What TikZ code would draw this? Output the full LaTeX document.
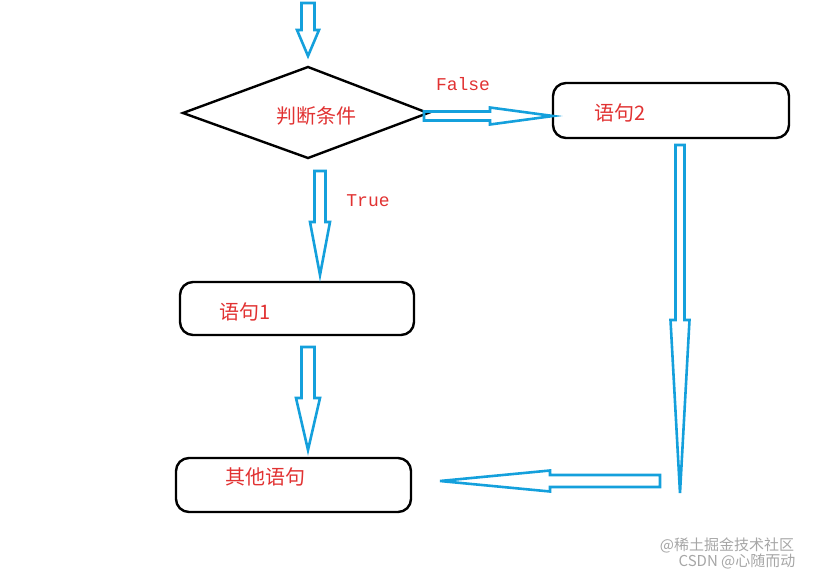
\documentclass[tikz,border=0pt]{standalone}
\usepackage{fontspec}
\setmonofont{Liberation Mono}
\newfontfamily\cjk{Noto Sans CJK SC}
\usetikzlibrary{shapes.geometric,calc}
\definecolor{arrblue}{RGB}{20,160,220}
\definecolor{txtred}{RGB}{225,50,50}
\tikzset{
  blk/.style={draw=arrblue,line width=2.6pt,line join=miter},
  boxx/.style={draw=black,line width=2.4pt,rounded corners=13pt},
  lbl/.style={text=txtred,font=\cjk\fontsize{20}{20}\selectfont},
  tf/.style={text=txtred,font=\ttfamily\fontsize{18}{18}\selectfont},
  wm/.style={text=gray!70,font=\cjk\fontsize{15}{15}\selectfont}
}
% vertical block arrow: x, ytop, yheadstart, ytip, half shaft, half head
\newcommand{\vblk}[6]{\draw[blk] (#1-#5,#2) -- (#1+#5,#2) -- (#1+#5,#3) -- (#1+#6,#3) -- (#1,#4) -- (#1-#6,#3) -- (#1-#5,#3) -- cycle;}
% horizontal block arrow: y, xstart, xheadstart, xtip, half shaft, half head
\newcommand{\hblk}[6]{\draw[blk] (#2,#1-#5) -- (#3,#1-#5) -- (#3,#1-#6) -- (#4,#1) -- (#3,#1+#6) -- (#3,#1+#5) -- (#2,#1+#5) -- cycle;}
\begin{document}
\begin{tikzpicture}[x=1pt,y=-1pt]
\useasboundingbox (0,0) rectangle (822,575);
\draw[line width=2.4pt] (183,113) coordinate (dl) -- (308,67) coordinate (dt) -- (428,113) coordinate (dr) -- (308,158) coordinate (db) -- cycle;
\node[lbl] (cond) at (316,116) {判断条件};
\draw[boxx] (553,83) rectangle (789,138);
\node[lbl] (s2) at (620,113) {语句2};
\draw[boxx] (180,282) rectangle (414,335);
\node[lbl] (s1) at (245,312) {语句1};
\draw[boxx] (176,458) rectangle (411,512);
\node[lbl] (other) at (265,477) {其他语句};
\vblk{308}{3}{30}{56}{6.5}{11}
\hblk{116}{424}{490}{553}{4.5}{8.5}
\vblk{320}{171}{222}{275}{5.5}{10}
\vblk{308}{347}{398}{450}{6.5}{12}
\vblk{680}{145}{320}{493}{4.5}{9.5}
\hblk{481}{660}{550}{440}{6}{10.5}
\node[tf] (f) at (463,84) {False};
\node[tf] (t) at (368,201) {True};
\node[wm] (w1) at (727,545) {@稀土掘金技术社区};
\node[wm] (w2) at (737,561) {CSDN @心随而动};
\end{tikzpicture}
\end{document}
